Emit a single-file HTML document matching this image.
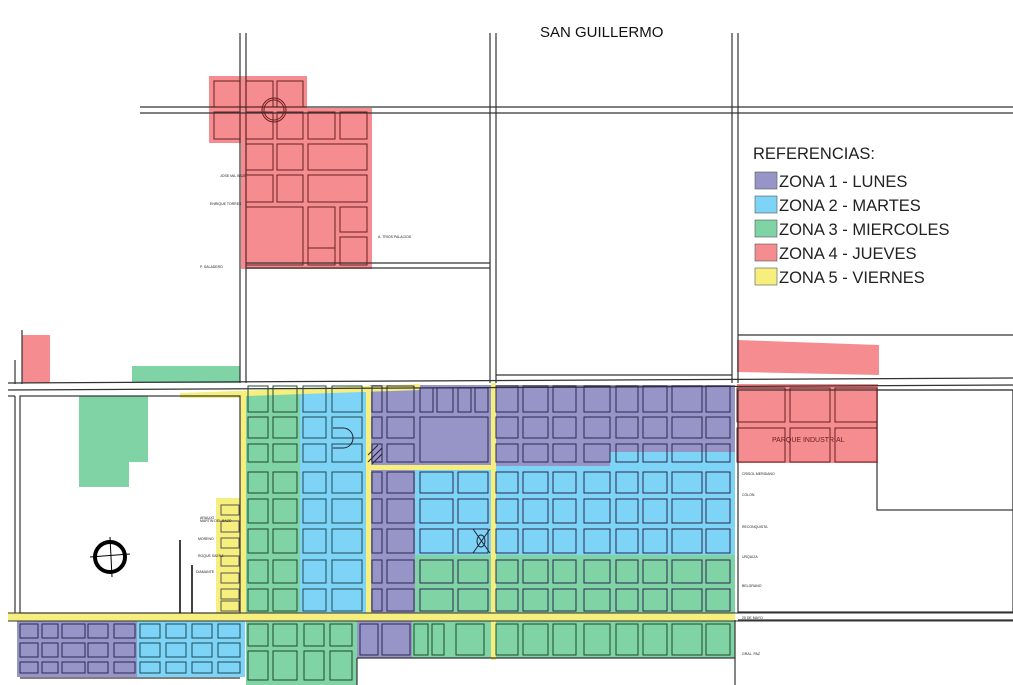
<!DOCTYPE html>
<html><head><meta charset="utf-8"><style>
html,body{margin:0;padding:0;background:#fff;}
#w{position:relative;width:1013px;height:685px;overflow:hidden;background:#fff;}
#w div{position:absolute;}
.p{background:#9794c8}.b{background:#7dd4f6}.gr{background:#80d3a5}.r{background:#f48c90}.y{background:#f6ef7e}
svg{position:absolute;left:0;top:0;display:block;font-family:"Liberation Sans",sans-serif;}
</style></head><body>
<div id="w">
<div class="r" style="left:209px;top:76px;width:98px;height:67px"></div>
<div class="r" style="left:241px;top:108px;width:131px;height:161px"></div>
<div class="r" style="left:22px;top:335px;width:28px;height:48px"></div>
<div class="r" style="left:737px;top:384px;width:141px;height:79px"></div>
<div class="gr" style="left:132px;top:366px;width:108px;height:17px"></div>
<div class="gr" style="left:79px;top:396px;width:69px;height:66px"></div>
<div class="gr" style="left:79px;top:460px;width:50px;height:27px"></div>
<div class="gr" style="left:246px;top:392px;width:56px;height:223px"></div>
<div class="b" style="left:300px;top:392px;width:67px;height:223px"></div>
<div class="p" style="left:370px;top:385px;width:365px;height:81px"></div>
<div class="p" style="left:370px;top:465px;width:45px;height:150px"></div>
<div class="b" style="left:415px;top:466px;width:320px;height:89px"></div>
<div class="b" style="left:610px;top:452px;width:125px;height:15px"></div>
<div class="gr" style="left:415px;top:555px;width:320px;height:60px"></div>
<div class="gr" style="left:412px;top:620px;width:323px;height:38px"></div>
<div class="p" style="left:357px;top:620px;width:55px;height:38px"></div>
<div class="gr" style="left:246px;top:620px;width:111px;height:65px"></div>
<div class="p" style="left:17px;top:620px;width:120px;height:57px"></div>
<div class="b" style="left:137px;top:620px;width:108px;height:57px"></div>
<div class="y" style="left:240px;top:396px;width:6px;height:220px"></div>
<div class="y" style="left:216px;top:498px;width:24px;height:117px"></div>
<div class="y" style="left:366px;top:389px;width:5px;height:227px"></div>
<div class="y" style="left:491px;top:383px;width:5px;height:277px"></div>
<div class="y" style="left:370px;top:465px;width:121px;height:5px"></div>
<div class="y" style="left:8px;top:613px;width:727px;height:8px"></div>
<svg width="1013" height="685" viewBox="0 0 1013 685" xmlns="http://www.w3.org/2000/svg">
<polygon fill="#f48c90" points="737,340 879,345 879,375 737,372"/>
<polygon fill="#f6ef7e" points="180,393 420,384 420,390 246,396 246,398 180,398"/>
<g stroke="#333" stroke-width="1.2" fill="none">
<line x1="240" y1="33" x2="240" y2="383"/><line x1="246" y1="33" x2="246" y2="383"/>
<line x1="490" y1="33" x2="490" y2="383"/><line x1="496" y1="33" x2="496" y2="383"/>
<line x1="732" y1="33" x2="732" y2="383"/><line x1="738" y1="33" x2="738" y2="383"/>
<line x1="140" y1="107" x2="1013" y2="107"/><line x1="140" y1="113" x2="1013" y2="113"/>
<line x1="246" y1="263" x2="490" y2="263"/><line x1="246" y1="268" x2="490" y2="268"/>
<line x1="496" y1="375" x2="732" y2="375"/><line x1="738" y1="335" x2="1013" y2="335"/>
<line x1="8" y1="383" x2="1013" y2="378"/><line x1="8" y1="390" x2="1013" y2="385"/>
<rect x="20" y="396" width="220" height="217"/>
<line x1="15" y1="396" x2="15" y2="613"/><line x1="8" y1="396" x2="15" y2="396"/>
<line x1="22" y1="384" x2="22" y2="330"/><line x1="15" y1="384" x2="15" y2="360"/>
<rect x="877" y="390" width="136" height="120"/>
<rect x="738" y="390" width="275" height="222"/>
<line x1="738" y1="620" x2="1013" y2="620"/>
<line x1="357" y1="658" x2="735" y2="658"/><line x1="357" y1="658" x2="357" y2="685"/>
<line x1="735" y1="620" x2="735" y2="685"/>
<line x1="20" y1="678" x2="240" y2="678"/>
</g>
<g id="blocks" stroke="#2a2a50" stroke-width="1" fill="none"></g>
<g stroke="#333" fill="none">
<line x1="8" y1="613" x2="1013" y2="613"/>
<line x1="8" y1="621" x2="1013" y2="621"/>
<circle cx="274" cy="110" r="12" stroke="#6a2020"/><circle cx="274" cy="110" r="10" stroke="#6a2020"/>
<circle cx="110" cy="557" r="15" stroke="#000" stroke-width="4"/>
<line x1="90" y1="557" x2="130" y2="554" stroke="#000"/><line x1="110" y1="537" x2="112" y2="577" stroke="#000"/>
<g stroke="#000" stroke-width="1.5"><line x1="180" y1="540" x2="180" y2="613"/><line x1="192" y1="565" x2="192" y2="613"/></g>
<g stroke="#223"><line x1="473" y1="529" x2="490" y2="553"/><line x1="490" y1="529" x2="473" y2="553"/><ellipse cx="481" cy="541" rx="4" ry="6"/></g>
<g stroke="#223"><path d="M333 428 h10 a10 10 0 0 1 0 20 h-10"/></g>
<g stroke="#223"><line x1="368" y1="455" x2="378" y2="445"/><line x1="368" y1="462" x2="382" y2="448"/><line x1="372" y1="464" x2="382" y2="454"/></g>
</g>
<g font-size="15" fill="#111"><text x="540" y="37">SAN GUILLERMO</text></g>
<g font-size="16.5" fill="#222">
<text x="753" y="159">REFERENCIAS:</text>
<rect x="755" y="172" width="22" height="17" fill="#9794c8" stroke="#555" stroke-width="0.6"/><text x="779" y="187">ZONA 1 - LUNES</text>
<rect x="755" y="196" width="22" height="17" fill="#7dd4f6" stroke="#555" stroke-width="0.6"/><text x="779" y="211">ZONA 2 - MARTES</text>
<rect x="755" y="220" width="22" height="17" fill="#80d3a5" stroke="#555" stroke-width="0.6"/><text x="779" y="235">ZONA 3 - MIERCOLES</text>
<rect x="755" y="244" width="22" height="17" fill="#f48c90" stroke="#555" stroke-width="0.6"/><text x="779" y="259">ZONA 4 - JUEVES</text>
<rect x="755" y="268" width="22" height="17" fill="#f6ef7e" stroke="#555" stroke-width="0.6"/><text x="779" y="283">ZONA 5 - VIERNES</text>
</g>
<text x="772" y="442" font-size="7" fill="#6a2020">PARQUE INDUSTRIAL</text>
<g font-size="3.5" fill="#222">
<text x="742" y="475">CRISOL MERIDANO</text><text x="742" y="496">COLON</text><text x="742" y="528">RECONQUISTA</text>
<text x="742" y="558">URQUIZA</text><text x="742" y="587">BELGRANO</text><text x="742" y="619">25 DE MAYO</text><text x="742" y="655">GRAL. PAZ</text>
<text x="200" y="519">ARAUJO</text><text x="200" y="522">MARTIN DEL BAZO</text><text x="198" y="540">MORENO</text><text x="198" y="557">ROQUE SAENZ</text><text x="196" y="573">DIAMANTE</text>
<text x="378" y="238">A. TRIOS PALACIOS</text><text x="220" y="177">JOSE MA. BAZE</text><text x="210" y="205">ENRIQUE TORRES</text><text x="200" y="268">P. SALADERO</text>
</g>
</svg>
</div>
<script>
var g=document.getElementById('blocks'),ns='http://www.w3.org/2000/svg';
function R(x0,x1,y0,y1,c){var e=document.createElementNS(ns,'rect');e.setAttribute('x',x0);e.setAttribute('y',y0);e.setAttribute('width',x1-x0);e.setAttribute('height',y1-y0);if(c)e.setAttribute('stroke',c);g.appendChild(e);}
function G(cols,rows,c){cols.forEach(function(a){rows.forEach(function(b){R(a[0],a[1],b[0],b[1],c);});});}
var rowsAll=[[386,412],[417,438],[444,462],[472,493],[499,523],[529,553],[560,583],[589,611]];
G([[496,518],[523,548],[553,576],[584,610],[616,638],[643,667],[672,702],[706,730]],rowsAll);
G([[372,382],[387,414]],rowsAll);
G([[420,453],[458,488]],rowsAll.slice(3));
R(420,488,417,462);G([[420,433],[437,453],[458,471],[475,488]],[[388,412]]);
G([[248,268],[273,297]],rowsAll,'#1f4a30');
G([[303,326],[332,362]],rowsAll,'#1f4a55');
G([[414,428],[432,444],[456,484],[496,518],[523,548],[553,576],[584,610],[616,638],[643,667],[672,702],[706,730]],[[624,655]],'#1f4a30');
G([[360,378],[382,410]],[[624,655]]);
G([[248,268],[273,297],[304,324],[330,352]],[[624,646],[651,680]],'#1f4a30');
G([[20,38],[42,58],[62,85],[88,108],[114,135]],[[624,638],[643,657],[662,673]]);
G([[140,160],[166,186],[192,212],[218,240]],[[624,638],[643,657],[662,673]],'#1f4a55');
G([[221,239]],[[505,515],[521,532],[538,548],[556,566],[573,583],[589,599],[601,611]],'#555');
G([[214,240],[246,273],[277,303]],[[81,107],[112,139]],'#6a2020');
G([[308,335],[340,367]],[[112,139]],'#6a2020');
G([[246,273],[277,303]],[[144,170],[175,202]],'#6a2020');
G([[308,367]],[[144,170],[175,202]],'#6a2020');
R(246,303,207,265,'#6a2020');G([[308,335]],[[207,248],[248,265]],'#6a2020');G([[340,367]],[[207,232],[237,265]],'#6a2020');
G([[737,785],[790,830],[835,877]],[[388,422],[428,462]],'#6a2020');
</script>
</body></html>
